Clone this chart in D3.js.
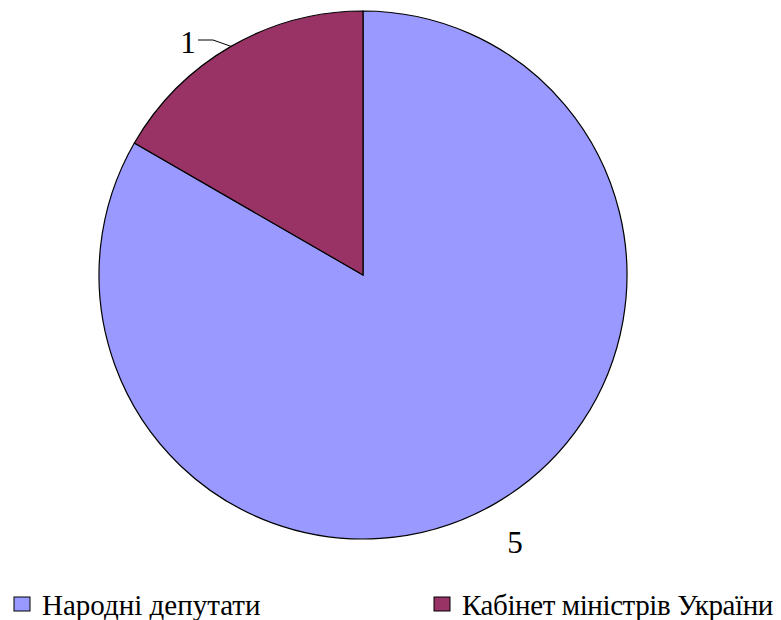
<!DOCTYPE html>
<html>
<head>
<meta charset="utf-8">
<script src="https://cdn.jsdelivr.net/npm/d3@7"></script>
<style>
  body { margin: 0; background: #fff; }
</style>
</head>
<body>
<div id="vis"></div>
<script>
const FRAME_WIDTH = 781;
const FRAME_HEIGHT = 620;
const CENTER = {x: 363, y: 275};
const RADIUS = 264;
const FONT = "'Liberation Serif', 'Times New Roman', 'DejaVu Serif', serif";

const categories = ["Народні депутати", "Кабінет міністрів України"];
const values = [5, 1];
const colors = ["#9999FF", "#993366"];

const data = categories.map((c, i) => ({name: c, value: values[i], color: colors[i]}));

const FRAME1 = d3.select("#vis")
  .append("svg")
    .attr("width", FRAME_WIDTH)
    .attr("height", FRAME_HEIGHT)
    .style("font-family", FONT);

const pie = d3.pie().sort(null).value(d => d.value);
const arc = d3.arc().innerRadius(0).outerRadius(RADIUS);
const arcs = pie(data);

const g = FRAME1.append("g")
  .attr("transform", "translate(" + CENTER.x + "," + CENTER.y + ")");

// slices
g.selectAll("path")
  .data(arcs)
  .enter()
  .append("path")
    .attr("d", arc)
    .attr("fill", d => d.data.color)
    .attr("stroke", "#000")
    .attr("stroke-width", 1.2);

// data labels
const labelPos = [
  {x: 152, y: 278},
  {x: -175, y: -222}
];
g.selectAll(".lbl")
  .data(arcs)
  .enter()
  .append("text")
    .attr("class", "lbl")
    .attr("x", (d, i) => labelPos[i].x)
    .attr("y", (d, i) => labelPos[i].y)
    .attr("text-anchor", "middle")
    .style("font-family", FONT)
    .attr("font-size", 31)
    .text(d => d.data.value);

// leader line for the small slice
const small = arcs[1];
const mid = (small.startAngle + small.endAngle) / 2;
const edge = [Math.sin(mid) * RADIUS, -Math.cos(mid) * RADIUS];
g.append("polyline")
  .attr("points", [[-165, -235], [-150, -235], edge].map(p => p.join(",")).join(" "))
  .attr("fill", "none")
  .attr("stroke", "#000")
  .attr("stroke-width", 1);

// legend
const legendX = [14, 434];
const legendSpacing = [0, -0.4];
const leg = FRAME1.selectAll(".leg")
  .data(data)
  .enter()
  .append("g")
    .attr("class", "leg")
    .attr("transform", (d, i) => "translate(" + legendX[i] + ",597)");

leg.append("rect")
  .attr("width", 16)
  .attr("height", 14)
  .attr("fill", d => d.color)
  .attr("stroke", "#000")
  .attr("stroke-width", 1);

leg.append("text")
  .attr("x", 28)
  .attr("y", 18)
  .style("font-family", FONT)
  .attr("font-size", 29)
  .attr("letter-spacing", (d, i) => legendSpacing[i])
  .text(d => d.name);
</script>
</body>
</html>
